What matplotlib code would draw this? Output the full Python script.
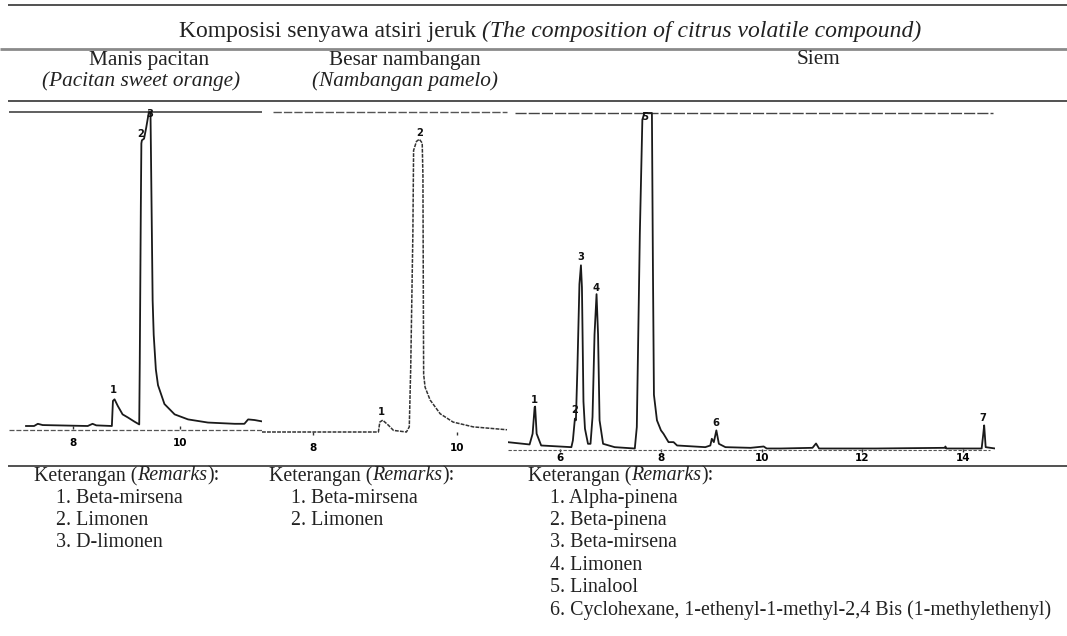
import matplotlib
matplotlib.use("Agg")
import matplotlib.pyplot as plt

W, H = 1067, 636
SERIF = "Liberation Serif"
SANS = "DejaVu Sans"

# ---- data -------------------------------------------------------------------
# retention time (min) and response (% of recorder full scale)
manis_t = [7.13, 7.28, 7.35, 7.44, 8.28, 8.37, 8.44, 8.73, 8.75, 8.78, 8.84,
           8.93, 9.03, 9.15, 9.24, 9.25, 9.27, 9.28, 9.29, 9.33, 9.37, 9.40,
           9.42, 9.45, 9.47, 9.49, 9.51, 9.55, 9.59, 9.71, 9.90, 10.15, 10.52,
           11.02, 11.20, 11.27, 11.39, 11.55]
manis_i = [0, 0, 0.7, 0.3, 0, 0.7, 0.2, 0, 8, 8.5, 6.4,
           3.7, 2.7, 1.4, 0.5, 20, 70, 90, 91, 91.5, 95, 98,
           100, 100, 70, 40, 29, 18, 13, 7, 3.7, 2.1, 1.1,
           0.7, 0.7, 2.1, 1.9, 1.4]

besar_t = [7.29, 8.91, 8.93, 8.97, 9.05, 9.12, 9.30, 9.34, 9.36, 9.39, 9.40,
           9.44, 9.48, 9.52, 9.53, 9.536, 9.54, 9.56, 9.63, 9.77, 9.95, 10.23,
           10.70]
besar_i = [0, 0, 3.1, 3.7, 2.1, 0.5, 0, 1.6, 20, 62, 88,
           90.8, 91.5, 90.3, 80, 40, 18, 14, 10, 5.7, 3.1, 1.6,
           0.7]

siem_t = [4.95, 5.39, 5.45, 5.49, 5.50, 5.53, 5.62, 6.22, 6.25, 6.29, 6.31,
          6.34, 6.38, 6.41, 6.43, 6.46, 6.49, 6.55, 6.60, 6.64, 6.68, 6.72,
          6.75, 6.78, 6.85, 7.08, 7.48, 7.52, 7.58, 7.63, 7.67, 7.82, 7.84,
          7.86, 7.92, 8.00, 8.05, 8.15, 8.25, 8.32, 8.88, 8.98, 9.01, 9.05,
          9.10, 9.15, 9.28, 9.78, 10.04, 10.10, 10.38, 11.01, 11.08, 11.14,
          12.27, 13.64, 13.65, 13.67, 14.37, 14.40, 14.42, 14.45, 14.64]
siem_i = [1.9, 1.2, 4.4, 12.3, 12.5, 4.4, 0.9, 0.4, 2.4, 8.9, 8.4,
          24, 49, 54.6, 48, 14, 5.9, 1.4, 1.4, 9.4, 34, 46,
          34, 8.4, 1.4, 0.4, 0, 6.4, 64, 98, 100, 100, 54,
          16, 8.4, 5.4, 4.4, 1.9, 1.9, 0.9, 0.4, 0.9, 2.9, 1.9,
          5.4, 1.4, 0.4, 0.2, 0.6, 0, 0, 0.2, 1.5, 0,
          0, 0.2, 0.6, 0, 0, 4, 6.9, 0.4, 0]

# peak number labels (time, response)
manis_lab_t = [8.76, 9.27, 9.43]
manis_lab_i = [11.5, 93, 99.5]
besar_lab_t = [8.95, 9.48]
besar_lab_i = [6.3, 93.3]
siem_lab_t = [5.49, 6.29, 6.41, 6.72, 7.68, 9.10, 14.40]
siem_lab_i = [14.5, 11.5, 57.2, 47.7, 98.9, 7.5, 9.0]

manis_ticks = [8, 10]
besar_ticks = [8, 10]
siem_ticks = [6, 8, 10, 12, 14]

title_main = "Komposisi senyawa atsiri jeruk"
title_en = "(The composition of citrus volatile compound)"
heads = ["Manis pacitan", "Besar nambangan", "Siem"]
heads_en = ["(Pacitan sweet orange)", "(Nambangan pamelo)", ""]
remarks = [
    ["Beta-mirsena", "Limonen", "D-limonen"],
    ["Beta-mirsena", "Limonen"],
    ["Alpha-pinena", "Beta-pinena", "Beta-mirsena", "Limonen", "Linalool",
     "Cyclohexane, 1-ethenyl-1-methyl-2,4 Bis (1-methylethenyl)"],
]

# ---- figure ------------------------------------------------------------------
fig = plt.figure(figsize=(W / 100, H / 100), dpi=100)
bg = fig.add_axes([0, 0, 1, 1])
bg.set_xlim(0, W)
bg.set_ylim(H, 0)
bg.axis("off")

# table rules
bg.hlines(5, 8, W, color="#222222", lw=1.1)
bg.hlines(49, 0, W, color="#8a8a8a", lw=2.0)
bg.hlines(101, 8, W, color="#222222", lw=1.1)
bg.hlines(466, 8, W, color="#222222", lw=1.1)

renderer = fig.canvas.get_renderer()
TITLE_FS = 17.0
HEAD_FS = 15.3
REM_FS = 14.4
INK = "#222222"


def mixed(x, y, parts, size, gap=0.0):
    """draw roman/italic pieces one after another starting at x"""
    for s, style in parts:
        t = bg.text(x, y, s, fontsize=size, family=SERIF, style=style,
                    va="center", ha="left", color=INK)
        x += t.get_window_extent(renderer).width + gap


mixed(179, 31, [(title_main, "normal"), (title_en, "italic")], TITLE_FS,
      gap=0.25 * TITLE_FS * 100 / 72)

head_x = [149, 405, 818]
sub_x = [141, 405, 818]
for hx, sx, h, e in zip(head_x, sub_x, heads, heads_en):
    bg.text(hx, 60, h, fontsize=HEAD_FS, family=SERIF, ha="center",
            va="center", color=INK)
    if e:
        bg.text(sx, 81, e, fontsize=HEAD_FS, family=SERIF, style="italic",
                ha="center", va="center", color=INK)

rem_x = [34, 269, 528]
for rx, items in zip(rem_x, remarks):
    mixed(rx, 476, [("Keterangan (", "normal"), ("Remarks", "italic"),
                    ("):", "normal")], REM_FS)
    for k, item in enumerate(items):
        bg.text(rx + 22, 476 + 22.3 * (k + 1), f"{k + 1}. {item}",
                fontsize=REM_FS, family=SERIF, ha="left", va="center",
                color=INK)


def panel(left, right, anchor_x, anchor_t, ppm, base_y, top_y, pad):
    top, bottom = 103, 463
    ax = fig.add_axes([left / W, 1 - bottom / H, (right - left) / W,
                       (bottom - top) / H])
    ax.set_xlim(anchor_t + (left - anchor_x) / ppm,
                anchor_t + (right - anchor_x) / ppm)
    scale = (base_y - top_y) / 100
    ax.set_ylim((base_y - bottom) / scale, (base_y - top) / scale)
    ax.patch.set_alpha(0)
    for s in ax.spines.values():
        s.set_visible(False)
    ax.spines["bottom"].set_position(("data", 0))
    ax.set_yticks([])
    ax.tick_params(axis="x", length=2, width=1, color="#333333", pad=pad,
                   labelsize=7.5)
    return ax


def peak_labels(ax, ts, vals):
    for k, (t, v) in enumerate(zip(ts, vals)):
        ax.text(t, v, str(k + 1), fontsize=7.2, fontweight="bold", family=SANS,
                ha="center", va="center", color="#111111")


# Manis pacitan
ax1 = panel(9, 262, 72.7, 8, 53.65, 426, 112, 7.0)
ax1.axhline(100, color="#444444", lw=1.2)
ax1.axhline(-1.3, color="#555555", lw=0.9, ls=(0, (4, 1.5)))
ax1.plot(manis_t, manis_i, color="#1a1a1a", lw=1.3)
ax1.set_xticks(manis_ticks)
ax1.set_xticklabels([str(v) for v in manis_ticks], fontweight="bold")
peak_labels(ax1, manis_lab_t, manis_lab_i)

# Besar nambangan
ax2 = panel(262, 508, 313, 8, 71.85, 432, 112, 6.0)
ax2.hlines(100, 7.44, 10.70, color="#555555", lw=1.0, ls=(0, (6, 1.5)))
ax2.plot(besar_t, besar_i, color="#333333", lw=1.1, ls=(0, (2.5, 0.8)))
ax2.set_xticks(besar_ticks)
ax2.set_xticklabels([str(v) for v in besar_ticks], fontweight="bold")
peak_labels(ax2, besar_lab_t, besar_lab_i)

# Siem
ax3 = panel(508, 995, 560.3, 6, 50.34, 448.5, 113, 1.0)
ax3.hlines(100, 5.10, 14.59, color="#444444", lw=1.0, ls=(0, (8, 1.5)))
ax3.axhline(-0.4, color="#555555", lw=0.8, ls=(0, (3, 1.5)), xmin=0, xmax=0.99)
ax3.plot(siem_t, siem_i, color="#1a1a1a", lw=1.3)
ax3.set_xticks(siem_ticks)
ax3.set_xticklabels([str(v) for v in siem_ticks], fontweight="bold")
peak_labels(ax3, siem_lab_t, siem_lab_i)

fig.savefig("out.png", dpi=100)
